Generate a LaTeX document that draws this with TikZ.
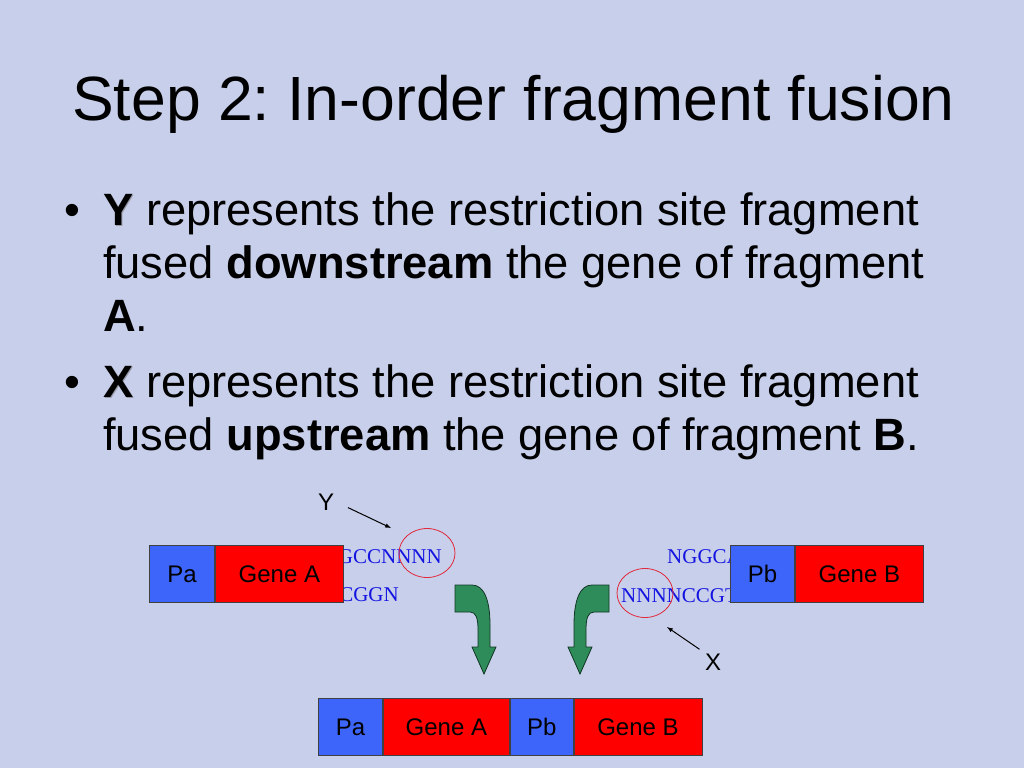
\documentclass[tikz,border=0pt]{standalone}
\usepackage{fontspec}
\setmainfont{Liberation Sans}
\newfontfamily\seqfont{Liberation Serif}
\usetikzlibrary{matrix,shapes.geometric}

\definecolor{slidebg}{RGB}{200,207,234}
\definecolor{promblue}{RGB}{62,101,250}
\definecolor{genered}{RGB}{255,0,0}
\definecolor{seqblue}{RGB}{20,20,225}
\definecolor{ringred}{RGB}{225,40,60}
\definecolor{foldgreen}{RGB}{46,140,90}
\definecolor{embossgray}{RGB}{150,152,165}

\frenchspacing
\newcommand\titlefont{\fontsize{62.5}{74}\selectfont}
\newcommand\bodyfont{\fontsize{45.3}{52}\selectfont}
\newcommand\embossed[1]{\rlap{\kern1.5pt\raisebox{-1.5pt}{\color{embossgray}#1}}#1}

% bent arrow, tip at the origin
\def\FoldArrow{(-29,-89) -- (-12,-89) .. controls (0,-89) and (6,-74) .. (6,-49) -- (6,-27) -- (12,-27) -- (0,0) -- (-12,-27) -- (-6,-27) -- (-6,-44) .. controls (-6,-56) and (-8,-62) .. (-14,-62) -- (-29,-62) -- cycle}

\begin{document}
\begin{tikzpicture}[x=1pt,y=-1pt,
    box/.style={draw=black!75, line width=0.8pt, anchor=center, minimum height=57, inner sep=0pt, outer sep=0pt, font=\fontsize{24}{28}\selectfont},
    promoter/.style={box, fill=promblue, minimum width=64},
    gene/.style={box, fill=genered, minimum width=128},
    seq/.style={text=seqblue, inner sep=0pt, font=\seqfont\fontsize{21}{24}\selectfont},
    site/.style={ellipse, draw=ringred, line width=0.8pt, minimum width=56, minimum height=49, inner sep=0pt},
    tag/.style={inner sep=2pt, font=\fontsize{24}{28}\selectfont},
    pointer/.style={-latex, line width=1pt},
    fold/.style={fill=foldgreen, draw=black!60!foldgreen, line width=0.8pt},
    line/.style={anchor=base west, inner sep=0pt, font=\bodyfont}]

    \fill[slidebg] (0,0) rectangle (1024,768);
    \useasboundingbox (0,0) rectangle (1024,768);

    \node (title) [anchor=base west, inner sep=0pt, font=\titlefont] at (72,120) {Step 2: In-order fragment fusion};

    \node (dotY) [line] at (64,225) {•};
    \node (lineY1) [line] at (103,225) {\embossed{\textbf{Y}} represents the restriction site fragment};
    \node (lineY2) [line] at (103,278) {fused \textbf{downstream} the gene of fragment};
    \node (lineY3) [line] at (103,331) {\textbf{A}.};
    \node (dotX) [line] at (64,397) {•};
    \node (lineX1) [line] at (103,397) {\embossed{\textbf{X}} represents the restriction site fragment};
    \node (lineX2) [line] at (103,450) {fused \textbf{upstream} the gene of fragment \textbf{B}.};

    % sticky ends, partly under the boxes
    \node (topA) [seq, anchor=base east] at (442,563) {GCCNNNN};
    \node (botA) [seq, anchor=base east] at (399,601) {CGGN};
    \node (topB) [seq, anchor=base west] at (667,563) {NGGCA};
    \node (botB) [seq, anchor=base west] at (621,602) {NNNNCCGT};

    \matrix (rowA) [matrix of nodes, ampersand replacement=\&, column sep=0pt, inner sep=0pt, anchor=north west] at (149,545)
    {
     |[promoter, minimum width=65]| Pa \& |[gene]| Gene A \\
    };
    \matrix (rowB) [matrix of nodes, ampersand replacement=\&, column sep=0pt, inner sep=0pt, anchor=north west] at (730,545)
    {
     |[promoter]| Pb \& |[gene]| Gene B \\
    };
    \matrix (fused) [matrix of nodes, ampersand replacement=\&, column sep=0pt, inner sep=0pt, anchor=north west] at (318,698)
    {
     |[promoter]| Pa \& |[gene, minimum width=126]| Gene A \& |[promoter, minimum width=63]| Pb \& |[gene]| Gene B \\
    };

    \node (siteY) [site] at (427,553) {};
    \node (siteX) [site] at (645,593) {};

    \node (ylab) [tag] at (326,502) {Y};
    \node (xlab) [tag] at (713,662) {X};
    \coordinate (yhead) at (391,528);
    \coordinate (xhead) at (667,627);
    \draw[pointer, shorten <=13pt] (ylab.east) -- (yhead);
    \draw[pointer, shorten <=4pt] (xlab.north west) -- (xhead);

    \draw[fold, shift={(484,674)}] \FoldArrow;
    \draw[fold, shift={(580,674)}, xscale=-1] \FoldArrow;

\end{tikzpicture}
\end{document}
